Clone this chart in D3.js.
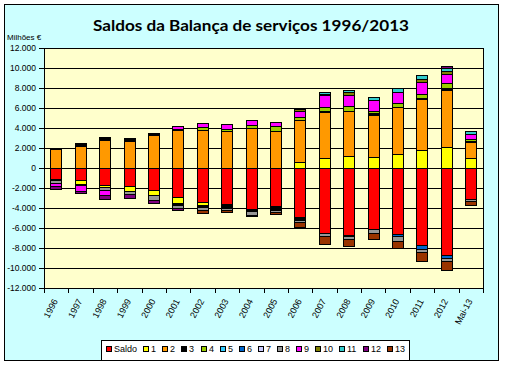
<!DOCTYPE html>
<html><head><meta charset="utf-8">
<script src="https://cdn.jsdelivr.net/npm/d3@7"></script>
<style>body{margin:0;background:#fff}svg{display:block}</style>
</head><body>
<svg id="c" width="507" height="367"></svg>
<script>
const categories = ["1996","1997","1998","1999","2000","2001","2002","2003","2004","2005","2006","2007","2008","2009","2010","2011","2012","Mai-13"];
const seriesNames = ["Saldo","1","2","3","4","5","6","7","8","9","10","11","12","13"];
const saldo = [-1070,-1200,-1700,-1800,-2200,-2930,-3400,-3570,-4070,-3830,-4930,-6500,-6670,-6070,-6570,-7670,-8670,-3070];
const s1  = [-160,-400,-230,-500,-550,-570,-270,-160,0,0,570,1000,1230,1100,1400,1770,2100,1000];
const s2  = [1900,2250,2800,2750,3300,3770,3830,3750,4030,3700,4200,4570,4500,4230,4700,5130,5730,1600];
const s3  = [0,250,300,200,200,-200,-230,-270,-260,-340,-300,100,-170,170,0,100,170,100];
const s4  = [0,0,0,0,0,160,240,200,300,470,300,430,430,230,400,400,500,200];
const s5  = [150,0,0,100,0,0,0,0,0,0,0,0,0,0,0,0,0,0];
const s6  = [0,0,0,0,0,0,0,0,0,0,0,0,0,0,-200,-430,-330,0];
const s7  = [0,0,0,0,0,0,0,0,0,0,0,0,0,0,0,0,0,0];
const s8  = [-270,-130,-300,-300,-420,-300,-330,-250,-340,-230,-170,-330,-260,-430,-500,-330,-330,-260];
const s9  = [-270,-570,-440,0,0,300,430,500,500,430,600,1170,1160,1040,1070,1200,930,530];
const s10 = [0,0,0,0,0,0,0,0,0,0,260,170,250,0,0,330,240,0];
const s11 = [0,0,0,0,0,0,0,0,0,0,0,170,250,330,430,330,330,240];
const s12 = [-330,-200,-430,-400,-330,-230,0,0,-160,0,0,0,0,0,0,0,170,0];
const s13 = [0,0,0,0,0,0,-270,-150,0,-200,-530,-770,-730,-600,-730,-840,-840,-340];
const yTicks = [-12000,-10000,-8000,-6000,-4000,-2000,0,2000,4000,6000,8000,10000,12000];
const titleText = "Saldos da Balança de serviços 1996/2013";
const unitText = "Milhões €";

const seriesValues = [saldo,s1,s2,s3,s4,s5,s6,s7,s8,s9,s10,s11,s12,s13];
const colors = ["#FF0000","#FFFF00","#FF9900","#000000","#99CC00","#33CCFF","#0066CC","#CCCCFF","#969696","#FF00FF","#808000","#33CCCC","#800080","#993300"];

const rows = categories.map((c,i)=>{const r={cat:c}; seriesNames.forEach((s,k)=>r[s]=seriesValues[k][i]); return r;});

const svg = d3.select("#c");
const FONT = "'Liberation Sans', Arial, sans-serif";

svg.append("rect").attr("x",4.5).attr("y",4.5).attr("width",494).attr("height",356)
  .attr("fill","#CCFFFF").attr("stroke","#000");

const L=44, R=483, T=48, B=288;
const x = d3.scaleBand().domain(categories).range([L,R]).paddingInner(0.53).paddingOuter(0.265);
const y = d3.scaleLinear().domain([-12000,12000]).range([B,T]);

svg.append("rect").attr("x",L+0.5).attr("y",T+0.5).attr("width",R-L).attr("height",B-T).attr("fill","#FFFFCC");

svg.append("g").selectAll("line").data(yTicks).join("line")
  .attr("x1",L).attr("x2",R).attr("y1",d=>Math.round(y(d))+0.5).attr("y2",d=>Math.round(y(d))+0.5)
  .attr("stroke","#000").attr("stroke-width",1);

const stack = d3.stack().keys(seriesNames).offset(d3.stackOffsetDiverging)(rows);
const bw = Math.round(x.bandwidth());
const gb = svg.append("g");
stack.forEach((layer,k)=>{
  gb.selectAll(null).data(layer.filter(d=>d[1]!==d[0])).join("rect")
    .attr("x",d=>Math.round(x(d.data.cat))+0.5)
    .attr("width",bw)
    .attr("y",d=>Math.round(y(d[1]))+0.5)
    .attr("height",d=>Math.max(0,Math.round(y(d[0]))-Math.round(y(d[1]))))
    .attr("fill",colors[k]).attr("stroke","#000").attr("stroke-width",1);
});

svg.append("rect").attr("x",L+0.5).attr("y",T+0.5).attr("width",R-L).attr("height",B-T)
  .attr("fill","none").attr("stroke","#000");

// y axis
const loc = d3.formatLocale({decimal:",",thousands:".",grouping:[3],currency:["","€"],minus:"-"});
const fmt = loc.format(",");
const ya = svg.append("g");
yTicks.forEach(t=>{
  const yy = Math.round(y(t))+0.5;
  ya.append("line").attr("x1",39).attr("x2",L).attr("y1",yy).attr("y2",yy).attr("stroke","#000");
  ya.append("text").attr("x",36).attr("y",yy).attr("dy","0.35em").attr("text-anchor","end")
    .attr("font-family",FONT).attr("font-size","8.5px").attr("fill","#000").text(fmt(t));
});

// x axis
const step = x.step();
const xa = svg.append("g");
for(let i=0;i<=categories.length;i++){
  const xx = Math.round(L+i*step)+0.5;
  xa.append("line").attr("x1",xx).attr("x2",xx).attr("y1",B).attr("y2",B+5).attr("stroke","#000");
}
categories.forEach(c=>{
  const cx = x(c)+x.bandwidth()/2;
  xa.append("text").attr("transform",`translate(${cx+2},${301}) rotate(-62)`)
    .attr("text-anchor","end").attr("font-family",FONT).attr("font-size","9px").attr("fill","#000").text(c);
});

// title
const tt = svg.append("text").attr("x",251).attr("y",31).attr("text-anchor","middle")
  .attr("font-family","Lato, 'Open Sans', sans-serif").attr("font-size","16px").attr("font-weight","bold").attr("fill","#000").text(titleText);
tt.attr("textLength",316).attr("lengthAdjust","spacingAndGlyphs");

svg.append("text").attr("x",7).attr("y",40).attr("font-family",FONT).attr("font-size","8px").attr("fill","#000").text(unitText);

// legend
const lg = svg.append("g");
lg.append("rect").attr("x",101.5).attr("y",340.5).attr("width",308).attr("height",20).attr("fill","#fff").attr("stroke","#000");
const items = seriesNames.map((s,k)=>{
  const t = lg.append("text").attr("y",352).attr("font-family",FONT).attr("font-size","9px").attr("fill","#000").text(s);
  return {t, w:t.node().getComputedTextLength(), k};
});
const startX = 106, endX = 405;
const totalText = d3.sum(items, d=>d.w + 8);
const gap = (endX - startX - totalText) / (items.length - 1);
let lx = startX;
items.forEach(it=>{
  lg.append("rect").attr("x",Math.round(lx)+0.5).attr("y",346.5).attr("width",5).attr("height",5).attr("fill",colors[it.k]).attr("stroke","#000");
  it.t.attr("x",Math.round(lx)+8);
  lx += 8 + it.w + gap;
});
</script>
</body></html>
